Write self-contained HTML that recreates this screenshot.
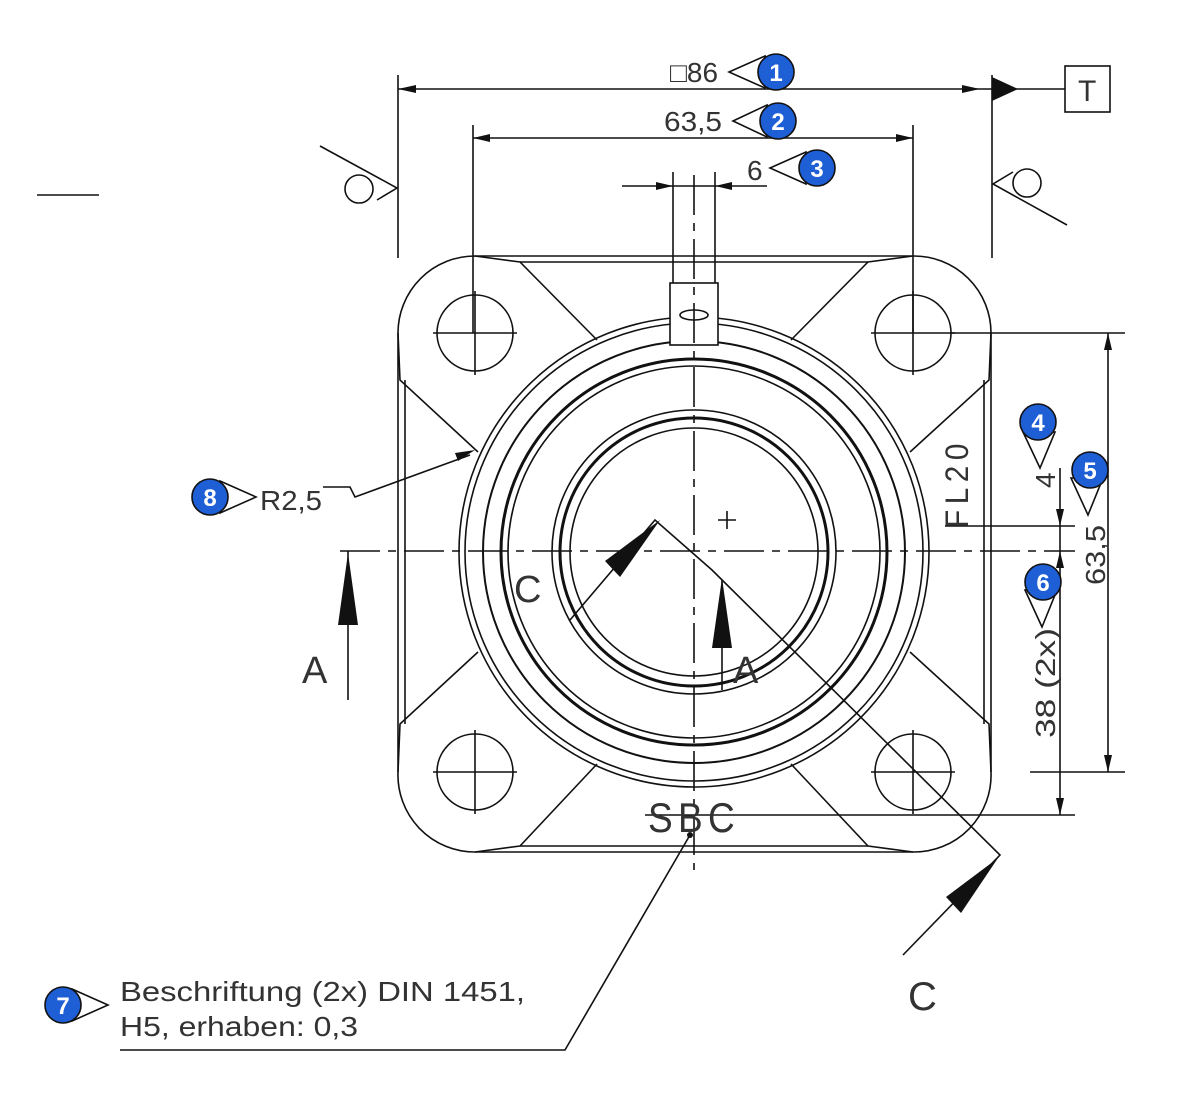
<!DOCTYPE html>
<html><head><meta charset="utf-8"><style>
html,body{margin:0;padding:0;background:#fff}
svg{display:block}
text{font-family:"Liberation Sans Narrow","Liberation Sans",sans-serif;fill:#333}
.b{fill:#fff;font-family:"Liberation Sans",sans-serif;font-weight:bold;font-size:24px}
</style></head><body>
<svg width="1181" height="1093" viewBox="0 0 1181 1093" xmlns="http://www.w3.org/2000/svg">
<g fill="none" stroke="#111" stroke-width="1.6">
<!-- top dims -->
<line x1="398" y1="75" x2="398" y2="258"/>
<line x1="992" y1="75" x2="992" y2="258"/>
<line x1="398" y1="89" x2="1065" y2="89"/>
<rect x="1065" y="66" width="45" height="46"/>
<line x1="473" y1="125" x2="473" y2="333"/>
<line x1="913" y1="125" x2="913" y2="333"/>
<line x1="473" y1="138" x2="913" y2="138"/>
<line x1="622" y1="186" x2="767" y2="186"/>
<line x1="673" y1="172" x2="673" y2="290"/>
<line x1="715" y1="172" x2="715" y2="290"/>
<line x1="37" y1="195" x2="99" y2="195"/>
<!-- surface symbols -->
<polyline points="320,146 397,188 377,200"/>
<circle cx="359" cy="189" r="14"/>
<polyline points="1067,225 993,184 1013,172"/>
<circle cx="1027" cy="183" r="14"/>
<!-- flange -->
<line x1="475" y1="256" x2="913" y2="256"/>
<line x1="520" y1="262" x2="868" y2="262"/>
<line x1="520" y1="846" x2="868" y2="846"/>
<line x1="475" y1="852" x2="913" y2="852"/>
<line x1="398" y1="333" x2="398" y2="772"/>
<line x1="405" y1="380" x2="405" y2="724"/>
<line x1="984" y1="380" x2="984" y2="724"/>
<line x1="991" y1="333" x2="991" y2="772"/>
<path d="M597,340 L520,262 L475,256 A77,77 0 0 0 398,333 L400,380 L478,452"/>
<path d="M791,340 L868,262 L913,256 A77,77 0 0 1 991,333 L989,380 L910,452"/>
<path d="M597,764 L520,846 L475,852 A77,77 0 0 1 398,772 L400,724 L478,652"/>
<path d="M791,764 L868,846 L913,852 A77,77 0 0 0 991,772 L989,724 L910,652"/>
<circle cx="475" cy="333" r="38"/><circle cx="913" cy="333" r="38"/>
<circle cx="475" cy="772" r="38"/><circle cx="913" cy="772" r="38"/>
<path d="M433,333h84M475,291v84M871,333h84M913,291v84M433,772h84M475,730v84M871,772h84M913,730v84"/>
<circle cx="694" cy="552" r="235"/>
<circle cx="694" cy="552" r="229"/>
<circle cx="694" cy="552" r="211" stroke-width="2"/>
<circle cx="694" cy="552" r="193" stroke-width="3"/>
<circle cx="694" cy="552" r="186"/>
<circle cx="694" cy="552" r="142"/>
<circle cx="694" cy="552" r="134" stroke-width="3"/>
<circle cx="694" cy="552" r="124"/>
<rect x="670" y="283" width="48" height="62" fill="#fff"/>
<ellipse cx="694" cy="315" rx="14" ry="5"/>
<!-- centerlines -->
<line x1="340" y1="551" x2="1075" y2="551" stroke-dasharray="40,8,8,8"/>
<line x1="694" y1="175" x2="694" y2="870" stroke-dasharray="40,8,8,8"/>
<path d="M718,520h18M727,511v18"/>
<!-- right dims -->
<line x1="950" y1="333" x2="1125" y2="333"/>
<line x1="1030" y1="772" x2="1125" y2="772"/>
<line x1="1108" y1="333" x2="1108" y2="772"/>
<line x1="1060" y1="468" x2="1060" y2="815"/>
<line x1="945" y1="526" x2="1075" y2="526"/>
<line x1="645" y1="815" x2="1075" y2="815"/>
<!-- section A -->
<line x1="348" y1="551" x2="348" y2="700"/>
<line x1="722" y1="580" x2="722" y2="690"/>
<!-- section C -->
<polyline points="570,620 655,520 712,570 1000,855 903,955"/>
<!-- leaders -->
<polyline points="690,835 565,1050 120,1050"/>
<polyline points="323,487 350,487 355,497 470,455"/>
</g>
<g fill="#111">
<polygon points="398,89 416,85 416,93"/><polygon points="980,89 962,85 962,93"/>
<polygon points="992,77 1018,89 992,101"/>
<polygon points="473,138 490,134 490,142"/><polygon points="913,138 896,134 896,142"/>
<polygon points="673,186 656,182 656,190"/><polygon points="715,186 732,182 732,190"/>
<polygon points="1108,333 1104,350 1112,350"/><polygon points="1108,772 1104,755 1112,755"/>
<polygon points="1060,526 1056,509 1064,509"/><polygon points="1060,551 1056,568 1064,568"/>
<polygon points="1060,815 1056,798 1064,798"/>
<polygon points="348,553 338,625 358,625"/>
<polygon points="722,578 712,648 732,648"/>
<polygon points="660,520 605,561 620,577"/>
<polygon points="998,858 946,897 961,913"/>
<polygon points="475,450 455,453 458,461"/>
<circle cx="690" cy="835" r="3"/>
</g>
<!-- texts -->
<g font-size="28">
<text x="670" y="82" textLength="48" lengthAdjust="spacingAndGlyphs">□86</text>
<text x="664" y="131" textLength="58" lengthAdjust="spacingAndGlyphs">63,5</text>
<text x="747" y="180">6</text>
<text x="260" y="510" textLength="62" lengthAdjust="spacingAndGlyphs">R2,5</text>
<text x="302" y="683" font-size="38">A</text>
<text x="733" y="683" font-size="38">A</text>
<text x="514" y="602" font-size="38">C</text>
<text x="908" y="1010" font-size="40">C</text>
<text x="648" y="832" font-size="42" textLength="92" lengthAdjust="spacingAndGlyphs" letter-spacing="6">SBC</text>
<text transform="translate(968,528) rotate(-90)" textLength="90" lengthAdjust="spacingAndGlyphs" font-size="32" letter-spacing="6">FL20</text>
<text transform="translate(1055,488) rotate(-90)">4</text>
<text transform="translate(1055,738) rotate(-90)" textLength="110" lengthAdjust="spacingAndGlyphs">38 (2x)</text>
<text transform="translate(1105,585) rotate(-90)" textLength="60" lengthAdjust="spacingAndGlyphs">63,5</text>
<text x="120" y="1001" textLength="405" lengthAdjust="spacingAndGlyphs">Beschriftung (2x) DIN 1451,</text>
<text x="120" y="1036" textLength="238" lengthAdjust="spacingAndGlyphs">H5, erhaben: 0,3</text>
<text x="1078" y="101" font-size="30">T</text>
</g>
<!-- balloons -->
<g stroke="#111" stroke-width="1.6">
<polygon points="729,72 765,56 765,88" fill="#fff"/><circle cx="776" cy="72" r="18" fill="#1f5fd6"/>
<polygon points="733,121 767,105 767,137" fill="#fff"/><circle cx="778" cy="121" r="18" fill="#1f5fd6"/>
<polygon points="770,168 806,152 806,184" fill="#fff"/><circle cx="817" cy="168" r="18" fill="#1f5fd6"/>
<polygon points="1040,468 1023,432 1055,432" fill="#fff"/><circle cx="1038" cy="422" r="18" fill="#1f5fd6"/>
<polygon points="1088,515 1071,478 1103,478" fill="#fff"/><circle cx="1090" cy="470" r="18" fill="#1f5fd6"/>
<polygon points="1042,627 1025,590 1057,590" fill="#fff"/><circle cx="1043" cy="582" r="18" fill="#1f5fd6"/>
<polygon points="108,1005 72,989 72,1021" fill="#fff"/><circle cx="63" cy="1005" r="18" fill="#1f5fd6"/>
<polygon points="256,497 220,481 220,513" fill="#fff"/><circle cx="210" cy="497" r="18" fill="#1f5fd6"/>
</g>
<g class="b" text-anchor="middle">
<text class="b" x="776" y="81">1</text>
<text class="b" x="778" y="130">2</text>
<text class="b" x="817" y="177">3</text>
<text class="b" x="1038" y="431">4</text>
<text class="b" x="1090" y="479">5</text>
<text class="b" x="1043" y="591">6</text>
<text class="b" x="63" y="1014">7</text>
<text class="b" x="210" y="506">8</text>
</g>
</svg>
</body></html>
